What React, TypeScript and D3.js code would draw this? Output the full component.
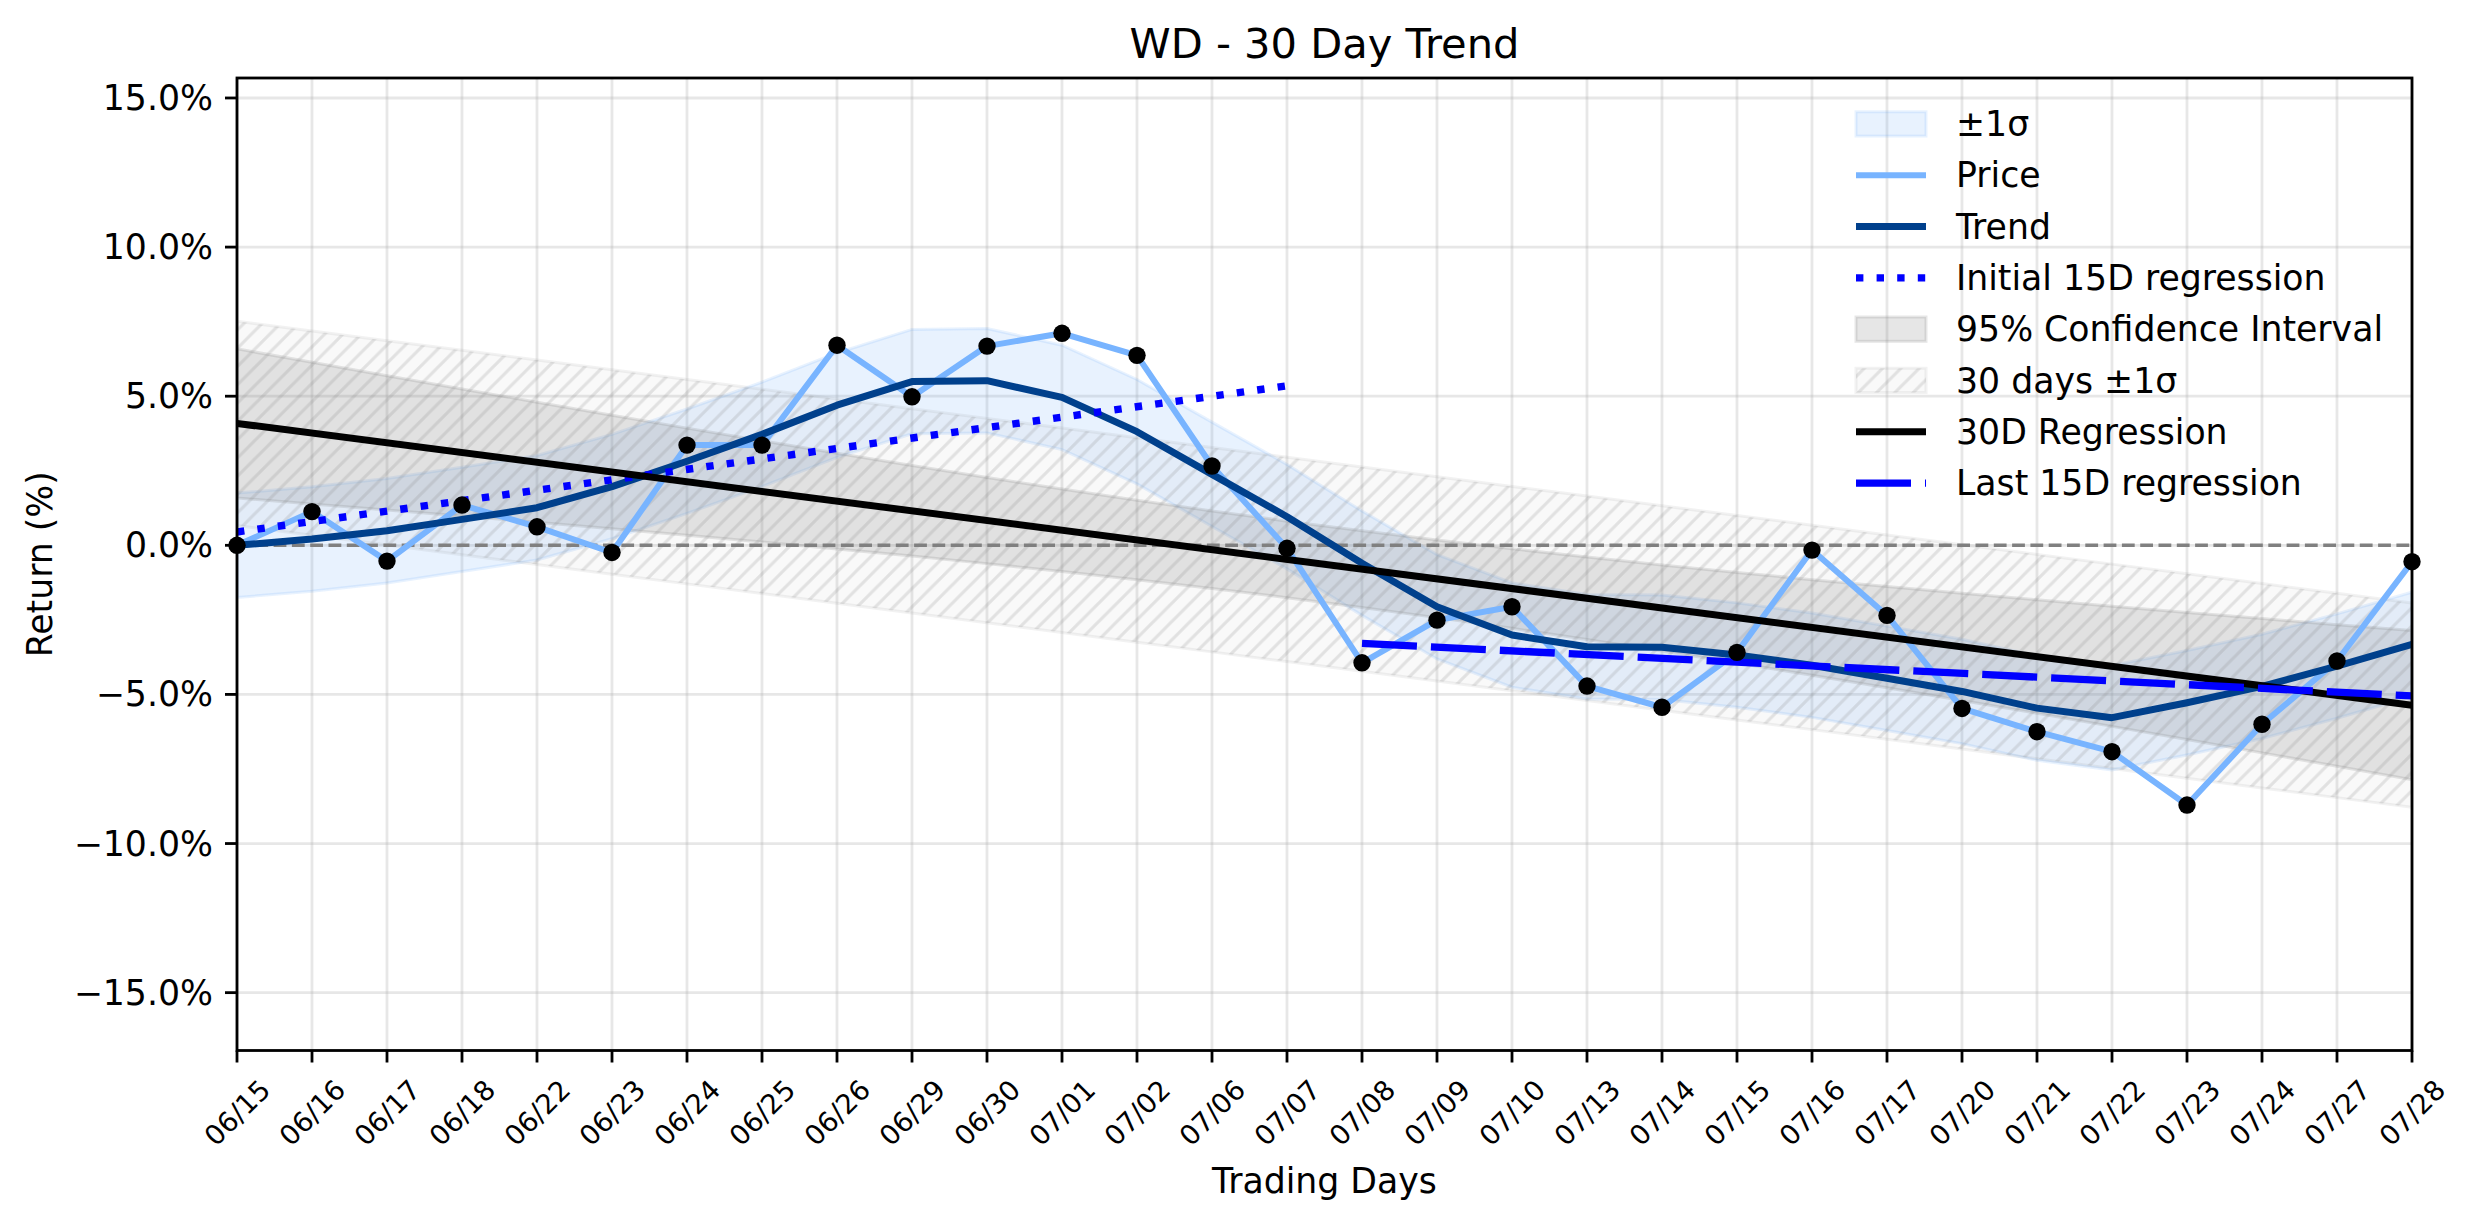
import React, {Component} from 'react';
import * as d3 from "d3"

// Trading days on the x axis
const dates = ["06/15","06/16","06/17","06/18","06/22","06/23","06/24","06/25","06/26","06/29",
  "06/30","07/01","07/02","07/06","07/07","07/08","07/09","07/10","07/13","07/14",
  "07/15","07/16","07/17","07/20","07/21","07/22","07/23","07/24","07/27","07/28"]

// Cumulative return (%)
const price = [0, 1.13, -0.53, 1.35, 0.62, -0.24, 3.36, 3.36, 6.71, 4.98,
  6.68, 7.11, 6.37, 2.66, -0.10, -3.94, -2.51, -2.06, -4.72, -5.43,
  -3.59, -0.16, -2.35, -5.47, -6.25, -6.92, -8.71, -6.00, -3.88, -0.55]

// Smoothed trend (%)
const trend = [0, 0.21, 0.49, 0.87, 1.26, 1.97, 2.82, 3.72, 4.70, 5.49,
  5.52, 4.96, 3.81, 2.38, 0.96, -0.60, -2.06, -3.01, -3.40, -3.42,
  -3.68, -4.02, -4.46, -4.90, -5.46, -5.78, -5.28, -4.73, -4.05, -3.32]

// half width of the light blue band around the trend
const trendSigma = 1.75

const yTicks = [-15, -10, -5, 0, 5, 10, 15]
const yDomain = [-16.94, 15.67]

const legendItems = ["±1σ", "Price", "Trend", "Initial 15D regression", "95% Confidence Interval",
  "30 days ±1σ", "30D Regression", "Last 15D regression"]

// least squares fit on a part of the series
function fit(xs: number[], ys: number[]) {
  const n = xs.length
  const mx = d3.mean(xs) as number
  const my = d3.mean(ys) as number
  let sxy = 0, sxx = 0
  xs.forEach((x, i) => { sxy += (x - mx) * (ys[i] - my); sxx += (x - mx) * (x - mx) })
  const slope = sxy / sxx
  const icpt = my - slope * mx
  let ssr = 0
  xs.forEach((x, i) => { const r = ys[i] - (icpt + slope * x); ssr += r * r })
  const s = Math.sqrt(ssr / (n - 2))
  return {slope, icpt, s, mx, sxx, n}
}

interface TrendChartProps {}
interface TrendChartState {}

class TrendChart extends Component<TrendChartProps, TrendChartState> {
  renderTrendChart() {
    const width = 2474
    const height = 1224
    const margin = {top: 78, right: 62, bottom: 173.5, left: 237}
    const font = "DejaVu Sans, sans-serif"

    d3.select("#TrendChart").selectAll("*").remove()
    const svg = d3.select("#TrendChart").append("svg")
      .attr("width", width).attr("height", height)
      .style("position", "absolute").style("left", 0).style("top", 0)
      .style("background", "#fff")

    const idx = dates.map((d, i) => i)
    const x = d3.scaleLinear().domain([0, dates.length - 1]).range([margin.left, width - margin.right])
    const y = d3.scaleLinear().domain(yDomain).range([height - margin.bottom, margin.top])

    const defs = svg.append("defs")
    defs.append("clipPath").attr("id", "plotClip").append("rect")
      .attr("x", margin.left).attr("y", margin.top)
      .attr("width", width - margin.left - margin.right)
      .attr("height", height - margin.top - margin.bottom)
    const hs = 18.3
    defs.append("pattern").attr("id", "hatch").attr("patternUnits", "userSpaceOnUse")
      .attr("width", hs).attr("height", hs)
      .append("path")
      .attr("d", `M0,${hs} L${hs},0 M${-hs / 2},${hs / 2} L${hs / 2},${-hs / 2} M${hs / 2},${hs * 1.5} L${hs * 1.5},${hs / 2}`)
      .attr("stroke", "#808080").attr("stroke-opacity", 0.2).attr("stroke-width", 3.2)

    // grid
    const grid = svg.append("g")
    grid.selectAll("line.v").data(idx).join("line")
      .attr("x1", d => x(d)).attr("x2", d => x(d))
      .attr("y1", margin.top).attr("y2", height - margin.bottom)
      .attr("stroke", "#b0b0b0").attr("stroke-opacity", 0.3).attr("stroke-width", 2.8)
    grid.selectAll("line.h").data(yTicks).join("line")
      .attr("x1", margin.left).attr("x2", width - margin.right)
      .attr("y1", d => y(d)).attr("y2", d => y(d))
      .attr("stroke", "#b0b0b0").attr("stroke-opacity", 0.3).attr("stroke-width", 2.8)

    // regressions
    const all = fit(idx, price)
    const first = fit(idx.slice(0, 15), price.slice(0, 15))
    const last = fit(idx.slice(15), price.slice(15))
    const tval = 2.0484
    const reg = (i: number) => all.icpt + all.slope * i
    const ci = (i: number) => tval * all.s * Math.sqrt(1 / all.n + (i - all.mx) * (i - all.mx) / all.sxx)

    const plot = svg.append("g").attr("clip-path", "url(#plotClip)")

    const band = (lo: (i: number) => number, hi: (i: number) => number) =>
      d3.area<number>().x(i => x(i)).y0(i => y(lo(i))).y1(i => y(hi(i)))

    // ±1σ around trend
    plot.append("path").datum(idx)
      .attr("d", band(i => trend[i] - trendSigma, i => trend[i] + trendSigma))
      .attr("fill", "#4d9ef5").attr("fill-opacity", 0.13)
      .attr("stroke", "#4d9ef5").attr("stroke-opacity", 0.13).attr("stroke-width", 3)

    // 95% confidence interval
    plot.append("path").datum(idx)
      .attr("d", band(i => reg(i) - ci(i), i => reg(i) + ci(i)))
      .attr("fill", "#808080").attr("fill-opacity", 0.2)
      .attr("stroke", "#808080").attr("stroke-opacity", 0.2).attr("stroke-width", 3)

    // 30 days ±1σ hatched
    const hatchD = band(i => reg(i) - all.s, i => reg(i) + all.s)(idx)
    plot.append("path").attr("d", hatchD)
      .attr("fill", "#808080").attr("fill-opacity", 0.05)
      .attr("stroke", "#808080").attr("stroke-opacity", 0.1).attr("stroke-width", 3)
    plot.append("path").attr("d", hatchD).attr("fill", "url(#hatch)")

    // zero line
    plot.append("line")
      .attr("x1", margin.left).attr("x2", width - margin.right)
      .attr("y1", y(0)).attr("y2", y(0))
      .attr("stroke", "#808080").attr("stroke-width", 3.4).attr("stroke-dasharray", "12.8 5.5")

    const line = d3.line<number>().x((d, i) => x(i)).y(d => y(d))

    // price
    plot.append("path").datum(price).attr("d", line)
      .attr("fill", "none").attr("stroke", "#78b4ff").attr("stroke-width", 6)
      .attr("stroke-linejoin", "round")

    // trend
    plot.append("path").datum(trend).attr("d", line)
      .attr("fill", "none").attr("stroke", "#00408c").attr("stroke-width", 7)
      .attr("stroke-linejoin", "round")

    // initial 15D regression
    plot.append("line")
      .attr("x1", x(0)).attr("x2", x(14))
      .attr("y1", y(first.icpt)).attr("y2", y(first.icpt + first.slope * 14))
      .attr("stroke", "#0000ff").attr("stroke-width", 7.4).attr("stroke-dasharray", "7.4 13.2")

    // 30D regression
    plot.append("line")
      .attr("x1", x(0)).attr("x2", x(29))
      .attr("y1", y(reg(0))).attr("y2", y(reg(29)))
      .attr("stroke", "#000").attr("stroke-width", 7)

    // last 15D regression
    plot.append("line")
      .attr("x1", x(15)).attr("x2", x(29))
      .attr("y1", y(last.icpt + last.slope * 15)).attr("y2", y(last.icpt + last.slope * 29))
      .attr("stroke", "#0000ff").attr("stroke-width", 7.3).attr("stroke-dasharray", "55 14")

    // Adding dots
    svg.append("g").selectAll("circle").data(price).join("circle")
      .attr("cx", (d, i) => x(i)).attr("cy", d => y(d)).attr("r", 8.7).attr("fill", "#000")

    // axes frame
    svg.append("rect")
      .attr("x", margin.left).attr("y", margin.top)
      .attr("width", width - margin.left - margin.right)
      .attr("height", height - margin.top - margin.bottom)
      .attr("fill", "none").attr("stroke", "#000").attr("stroke-width", 2.8)

    // y ticks
    const yAxis = svg.append("g")
    yAxis.selectAll("line").data(yTicks).join("line")
      .attr("x1", margin.left - 12).attr("x2", margin.left)
      .attr("y1", d => y(d)).attr("y2", d => y(d))
      .attr("stroke", "#000").attr("stroke-width", 2.8)
    yAxis.selectAll("text").data(yTicks).join("text")
      .attr("x", margin.left - 24).attr("y", d => y(d))
      .attr("text-anchor", "end").attr("dominant-baseline", "central")
      .attr("font-family", font).attr("font-size", 34.7)
      .text(d => (d < 0 ? "\u2212" : "") + Math.abs(d).toFixed(1) + "%")

    // x ticks
    const xAxis = svg.append("g")
    xAxis.selectAll("line").data(idx).join("line")
      .attr("x1", d => x(d)).attr("x2", d => x(d))
      .attr("y1", height - margin.bottom).attr("y2", height - margin.bottom + 12)
      .attr("stroke", "#000").attr("stroke-width", 2.8)
    xAxis.selectAll("text").data(idx).join("text")
      .attr("transform", d => `translate(${x(d)},${height - margin.bottom + 62}) rotate(-45)`)
      .attr("text-anchor", "middle").attr("dominant-baseline", "central")
      .attr("font-family", font).attr("font-size", 27.5)
      .text(d => dates[d])

    // labels
    svg.append("text").attr("x", (margin.left + width - margin.right) / 2).attr("y", 58)
      .attr("text-anchor", "middle").attr("font-family", font).attr("font-size", 41.6)
      .text("WD - 30 Day Trend")
    svg.append("text").attr("x", (margin.left + width - margin.right) / 2).attr("y", 1193)
      .attr("text-anchor", "middle").attr("font-family", font).attr("font-size", 34.7)
      .text("Trading Days")
    svg.append("text")
      .attr("transform", `translate(40,${(margin.top + height - margin.bottom) / 2}) rotate(-90)`)
      .attr("text-anchor", "middle").attr("dominant-baseline", "central")
      .attr("font-family", font).attr("font-size", 34.7)
      .text("Return (%)")

    // legend
    const lx = 1856, lw = 70, ly0 = 124, lstep = 51.3
    const lg = svg.append("g")
    legendItems.forEach((name, k) => {
      const cy = ly0 + k * lstep
      if (k === 0) {
        lg.append("rect").attr("x", lx).attr("y", cy - 12.2).attr("width", lw).attr("height", 24.3)
          .attr("fill", "#4d9ef5").attr("fill-opacity", 0.13)
          .attr("stroke", "#4d9ef5").attr("stroke-opacity", 0.13).attr("stroke-width", 3)
      } else if (k === 4) {
        lg.append("rect").attr("x", lx).attr("y", cy - 12.2).attr("width", lw).attr("height", 24.3)
          .attr("fill", "#808080").attr("fill-opacity", 0.2)
          .attr("stroke", "#808080").attr("stroke-opacity", 0.2).attr("stroke-width", 3)
      } else if (k === 5) {
        lg.append("rect").attr("x", lx).attr("y", cy - 12.2).attr("width", lw).attr("height", 24.3)
          .attr("fill", "#808080").attr("fill-opacity", 0.05)
          .attr("stroke", "#808080").attr("stroke-opacity", 0.1).attr("stroke-width", 3)
        lg.append("rect").attr("x", lx).attr("y", cy - 12.2).attr("width", lw).attr("height", 24.3)
          .attr("fill", "url(#hatch)")
      } else {
        const st: any = {
          1: ["#78b4ff", 6, null],
          2: ["#00408c", 7, null],
          3: ["#0000ff", 7.4, "7.4 13.2"],
          6: ["#000", 7, null],
          7: ["#0000ff", 7.3, "55 14"],
        }[k]
        lg.append("line").attr("x1", lx).attr("x2", lx + lw).attr("y1", cy).attr("y2", cy)
          .attr("stroke", st[0]).attr("stroke-width", st[1])
          .attr("stroke-dasharray", st[2])
      }
      lg.append("text").attr("x", 1956).attr("y", cy)
        .attr("dominant-baseline", "central")
        .attr("font-family", font).attr("font-size", 34.7)
        .text(name)
    })
  }

  componentDidMount() {
    this.renderTrendChart()
  }

  public render(): JSX.Element {
    return (
      <div className='TrendChart' id='TrendChart'></div>
    )
  }
}

export default function App() {
  return <TrendChart />
}
